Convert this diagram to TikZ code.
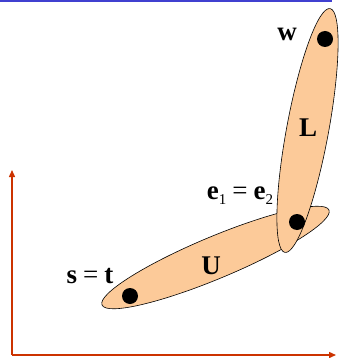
\documentclass[tikz,border=0pt]{standalone}
\usepackage{fontspec}
\setmainfont{Liberation Serif}
\usetikzlibrary{arrows.meta}
\definecolor{peach}{RGB}{252,202,153}
\definecolor{axisred}{RGB}{204,51,0}
\definecolor{topblue}{RGB}{64,64,208}
\begin{document}
\begin{tikzpicture}[x=1pt,y=-1pt,
  blob/.style={draw=black,line width=0.6pt,fill=peach},
  dot/.style={circle,fill=black,inner sep=0pt,minimum size=16pt},
  lab/.style={inner sep=0pt,font=\fontsize{27}{30}\selectfont},
  axis/.style={draw=axisred,line width=1.4pt,-{Triangle[length=7pt,width=6pt]}}]
\useasboundingbox (0,0) rectangle (339,358);
\draw[topblue,line width=2pt] (0,1.5) -- (332,1.5);
% axes
\coordinate (O) at (12,355);
\coordinate (ytop) at (12,170);
\coordinate (xend) at (336,355);
\draw[axis] (O) -- (ytop);
\draw[axis] (O) -- (xend);
% ellipses
\draw[blob] (215.5,257.5) ellipse[x radius=123, y radius=21, rotate=22.7];
\draw[blob] (307.5,130.5) ellipse[x radius=124, y radius=21, rotate=79.5];
% dots
\node[dot] (w) at (325,39) {};
\node[dot] (e) at (297,222) {};
\node[dot] (s) at (130,296) {};
% labels
\node[lab] (wl) at (287,34) {\textbf{w}};
\node[lab] (Ll) at (308,128) {\textbf{L}};
\node[lab] (el) at (240,196) {\textbf{e}\raisebox{-5pt}{\fontsize{15}{16}\selectfont 1}\hspace{0.22em}=\hspace{0.22em}\textbf{e}\raisebox{-5pt}{\fontsize{15}{16}\selectfont 2}};
\node[lab] (Ul) at (211,266) {\textbf{U}};
\node[lab] (sl) at (90,276) {\textbf{s}\hspace{0.22em}=\hspace{0.22em}\textbf{t}};
\end{tikzpicture}
\end{document}
